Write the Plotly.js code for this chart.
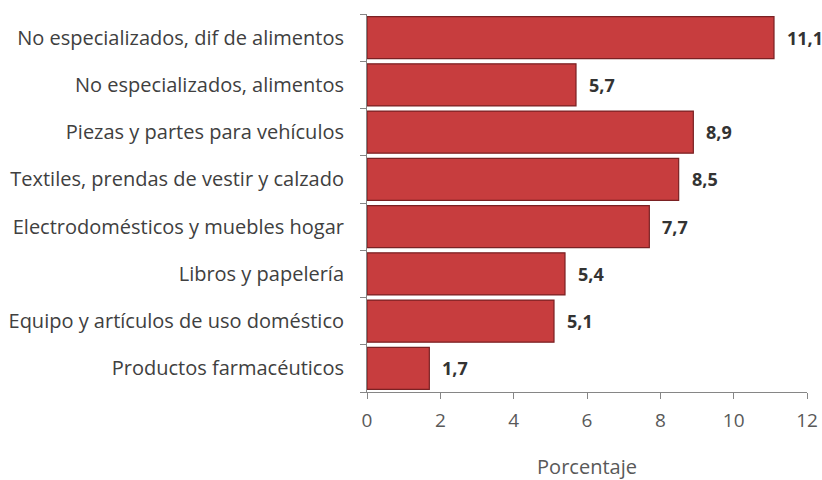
<!DOCTYPE html>
<html><head><meta charset="utf-8">
<script src="https://cdn.plot.ly/plotly-3.0.1.min.js"></script>
<style>body{margin:0;background:#fff}#c{width:822px;height:480px}</style>
</head><body><div id="c"></div>
<script>
const categories = [
  "No especializados, dif de alimentos",
  "No especializados, alimentos",
  "Piezas y partes para vehículos",
  "Textiles, prendas de vestir y calzado",
  "Electrodomésticos y muebles hogar",
  "Libros y papelería",
  "Equipo y artículos de uso doméstico",
  "Productos farmacéuticos"
];
const values = [11.1, 5.7, 8.9, 8.5, 7.7, 5.4, 5.1, 1.7];
const xTicks = [0, 2, 4, 6, 8, 10, 12];

const fmt = v => v.toFixed(1).replace('.', ',');
const FONT = "Open Sans";

const trace = {
  type: 'bar', orientation: 'h',
  x: values, y: categories,
  marker: {color: '#c73d3e', line: {color: '#7a2123', width: 1.2}},
  hoverinfo: 'none'
};

const annotations = values.map((v, i) => ({
  x: v, y: categories[i], xref: 'x', yref: 'y',
  text: '<b>' + fmt(v) + '</b>', showarrow: false,
  xanchor: 'left', xshift: 11,
  font: {family: FONT, size: 18, color: '#333333'}
}));

const layout = {
  width: 822, height: 480,
  margin: {l: 367, r: 15, t: 14, b: 88},
  paper_bgcolor: '#fff', plot_bgcolor: '#fff',
  showlegend: false, bargap: 0.11,
  xaxis: {
    range: [0, 12], tickvals: xTicks, ticktext: xTicks.map(String),
    showgrid: false, zeroline: false,
    showline: true, linecolor: '#868686', linewidth: 1,
    ticks: 'outside', ticklen: 6, tickcolor: '#868686',
    ticklabelstandoff: 5,
    tickfont: {family: FONT, size: 19, color: '#595959'},
    title: {text: 'Porcentaje', font: {family: FONT, size: 20, color: '#595959'}, standoff: 33}
  },
  yaxis: {
    categoryorder: 'array', categoryarray: categories.slice().reverse(),
    autorange: true, showgrid: false, zeroline: false,
    showline: true, linecolor: '#868686', linewidth: 1,
    ticks: 'outside', ticklen: 6, tickcolor: '#868686', tickson: 'boundaries',
    ticklabelstandoff: 18,
    tickfont: {family: FONT, size: 20, color: '#404040'}
  },
  annotations: annotations
};

Plotly.newPlot('c', [trace], layout, {displayModeBar: false, staticPlot: true});
</script></body></html>
